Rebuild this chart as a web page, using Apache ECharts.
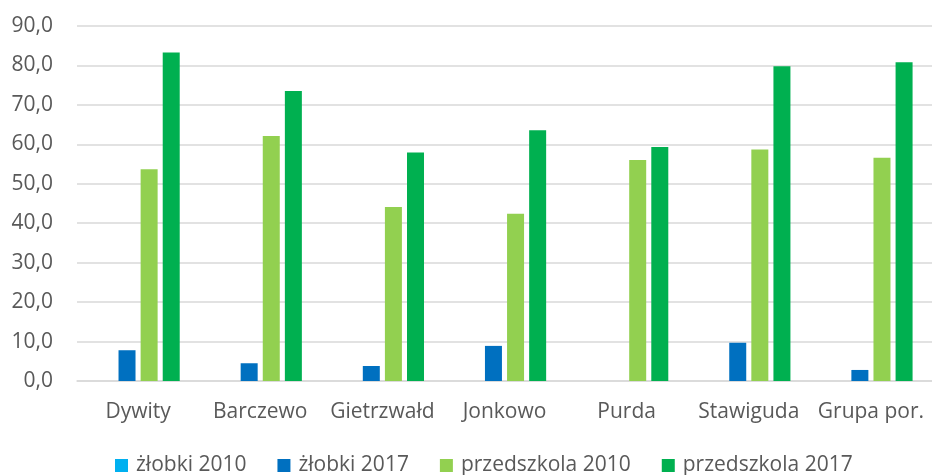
<!DOCTYPE html>
<html>
<head>
<meta charset="utf-8">
<script src="https://cdn.jsdelivr.net/npm/echarts@6/dist/echarts.min.js"></script>
<style>
    html, body { margin: 0; padding: 0; background: #fff; }
    #chart { width: 932px; height: 475px; }
</style>
</head>
<body>
<div id="chart"></div>
<script>
const categories = ["Dywity", "Barczewo", "Gietrzwałd", "Jonkowo", "Purda", "Stawiguda", "Grupa por."]
const seriesNames = ["żłobki 2010", "żłobki 2017", "przedszkola 2010", "przedszkola 2017"]
const zlobki2010 = [0, 0, 0, 0, 0, 0, 0]
const zlobki2017 = [7.8, 4.5, 3.8, 8.9, 0, 9.7, 2.8]
const przedszkola2010 = [53.7, 62.1, 44.1, 42.4, 56.0, 58.7, 56.6]
const przedszkola2017 = [83.3, 73.5, 57.9, 63.6, 59.3, 79.8, 80.8]

const colors = ["#00B0F0", "#0070C0", "#92D050", "#00B050"]
const values = [zlobki2010, zlobki2017, przedszkola2010, przedszkola2017]
const font = "Open Sans"

const chart = echarts.init(document.getElementById("chart"))

const option = {
    animation: false,
    color: colors,
    grid: {
        left: 77,
        right: 0,
        top: 26,
        bottom: 94,
    },
    legend: {
        top: 450,
        left: 110,
        itemWidth: 13,
        itemHeight: 13,
        itemGap: 31,
        icon: "rect",
        textStyle: { color: "#595959", fontSize: 21, fontFamily: font, padding: [0, 0, 0, 3] },
        data: seriesNames,
    },
    xAxis: {
        type: "category",
        data: categories,
        axisLine: { lineStyle: { color: "#D9D9D9", width: 1.5 } },
        axisTick: { show: false },
        axisLabel: { color: "#595959", fontSize: 21, fontFamily: font, margin: 21, interval: 0 },
    },
    yAxis: {
        type: "value",
        min: 0,
        max: 90,
        interval: 10,
        axisLabel: {
            color: "#595959",
            fontSize: 21,
            fontFamily: font,
            margin: 24,
            formatter: function (v) {
                return v.toFixed(1).replace(".", ",")
            },
        },
        splitLine: { lineStyle: { color: "#D9D9D9", width: 1.5 } },
    },
    series: values.map(function (d, i) {
        return {
            name: seriesNames[i],
            type: "bar",
            data: d,
            barWidth: 17,
            barGap: "30%",
            itemStyle: { color: colors[i] },
        }
    }),
}

chart.setOption(option)
</script>
</body>
</html>
